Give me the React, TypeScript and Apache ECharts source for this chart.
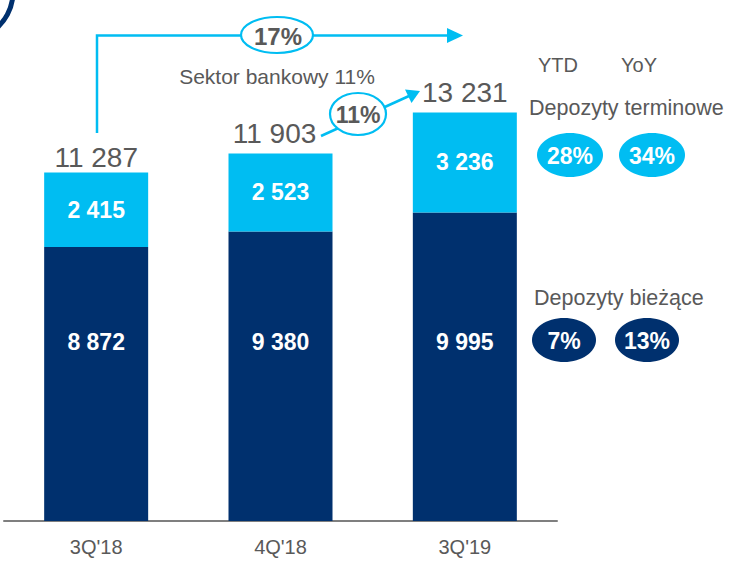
import React, { useEffect, useRef } from "react";
import * as echarts from "echarts";

const categories = ["3Q'18", "4Q'18", "3Q'19"];
const currentDeposits = [8872, 9380, 9995];
const termDeposits = [2415, 2523, 3236];
const totals = [11287, 11903, 13231];

const NAVY = "#00306e";
const LIGHT = "#00bdf2";
const GRAY = "#595959";
const FONT = "Liberation Sans, Arial, sans-serif";

const fmt = (v: number) => {
  const s = String(Math.round(v));
  return s.replace(/\B(?=(\d{3})+(?!\d))/g, " ");
};

export default function App() {
  const ref = useRef<HTMLDivElement>(null);
  useEffect(() => {
    document.body.style.margin = "0";
    const chart = echarts.init(ref.current!, null, { renderer: "svg" });
    const totalLabels = [
      { distance: 1, offset: [0, 0] },
      { distance: 6, offset: [-6, 0] },
      { distance: 6, offset: [0, 0] },
    ];
    const txt = (x: number, y: number, text: string, size: number, color: string, bold = false, align = "center") => ({
      type: "text",
      x,
      y,
      z: 20,
      silent: true,
      style: {
        text,
        fill: color,
        fontSize: size,
        fontWeight: bold ? "bold" : "normal",
        fontFamily: FONT,
        align,
        verticalAlign: "middle",
      },
    });
    const ell = (cx: number, cy: number, rx: number, ry: number, fill: string, stroke?: string) => ({
      type: "ellipse",
      z: 15,
      silent: true,
      shape: { cx, cy, rx, ry },
      style: stroke ? { fill, stroke, lineWidth: 2.2 } : { fill },
    });
    chart.setOption({
      animation: false,
      grid: { left: 4, right: 174, top: 27, bottom: 42 },
      xAxis: {
        type: "category",
        data: categories,
        axisLine: { show: true, lineStyle: { color: "#7f7f7f", width: 2 } },
        axisTick: { show: false },
        axisLabel: { color: GRAY, fontSize: 20, fontFamily: FONT, margin: 16 },
      },
      yAxis: { type: "value", min: 0, max: 16000, show: false, splitLine: { show: false } },
      series: [
        {
          type: "bar",
          stack: "dep",
          data: currentDeposits,
          barWidth: 104,
          itemStyle: { color: NAVY },
          label: {
            show: true,
            position: "insideBottom",
            distance: 168,
            color: "#fff",
            fontWeight: "bold",
            fontSize: 23,
            fontFamily: FONT,
            formatter: (p: any) => fmt(p.value),
          },
        },
        {
          type: "bar",
          stack: "dep",
          data: termDeposits,
          barWidth: 104,
          itemStyle: { color: LIGHT },
          label: {
            show: true,
            position: "inside",
            color: "#fff",
            fontWeight: "bold",
            fontSize: 23,
            fontFamily: FONT,
            formatter: (p: any) => fmt(p.value),
          },
        },
        {
          type: "bar",
          data: totals.map((v, i) => ({ value: v, label: totalLabels[i] })),
          barWidth: 104,
          barGap: "-100%",
          silent: true,
          z: 5,
          itemStyle: { color: "rgba(0,0,0,0)" },
          label: {
            show: true,
            position: "top",
            color: GRAY,
            fontSize: 28,
            fontFamily: FONT,
            formatter: (p: any) => fmt(p.value),
          },
        },
      ],
      graphic: [
        {
          type: "arc",
          silent: true,
          shape: { cx: -35, cy: -8, r: 48, startAngle: 0, endAngle: Math.PI * 2 },
          style: { stroke: NAVY, lineWidth: 5, fill: null },
        },
        {
          type: "polyline",
          silent: true,
          z: 10,
          shape: { points: [[97, 133], [97, 35.5], [450, 35.5]] },
          style: { stroke: LIGHT, lineWidth: 2.5, fill: null },
        },
        {
          type: "polygon",
          silent: true,
          z: 10,
          shape: { points: [[447, 28], [463, 35.5], [447, 43]] },
          style: { fill: LIGHT },
        },
        ell(277, 35, 36, 18, "#fff", LIGHT),
        txt(278, 36, "17%", 24, GRAY, true),
        txt(277, 76, "Sektor bankowy 11%", 21, GRAY),
        {
          type: "line",
          silent: true,
          z: 10,
          shape: { x1: 321, y1: 136, x2: 409, y2: 96 },
          style: { stroke: LIGHT, lineWidth: 2.5 },
        },
        {
          type: "polygon",
          silent: true,
          z: 10,
          shape: { points: [[420, 91], [411.5, 103], [405, 89.5]] },
          style: { fill: LIGHT },
        },
        ell(358, 114, 28, 21, "#fff", LIGHT),
        txt(358, 115, "11%", 23, GRAY, true),
        txt(558, 65, "YTD", 20, GRAY),
        txt(639, 65, "YoY", 20, GRAY),
        txt(529, 108, "Depozyty terminowe", 21.5, GRAY, false, "left"),
        ell(570, 155, 33, 22, LIGHT),
        txt(570, 156, "28%", 23, "#fff", true),
        ell(652, 155, 33, 22, LIGHT),
        txt(652, 156, "34%", 23, "#fff", true),
        txt(534, 298, "Depozyty bieżące", 21.5, GRAY, false, "left"),
        ell(564, 340, 32, 22, NAVY),
        txt(564, 341, "7%", 23, "#fff", true),
        ell(647, 340, 32, 22, NAVY),
        txt(647, 341, "13%", 23, "#fff", true),
      ],
    });
    return () => chart.dispose();
  }, []);
  return <div ref={ref} style={{ width: 731, height: 563 }} />;
}
